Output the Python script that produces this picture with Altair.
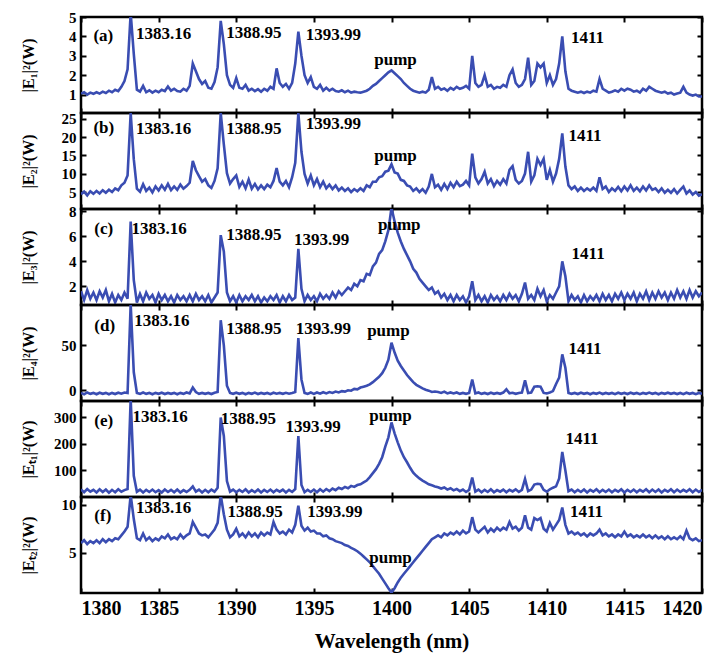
import altair as alt
import pandas as pd

SERIF = "Liberation Serif"
BLUE = "#3a4db2"

WAVELENGTH = [round(1380 + 0.2 * i, 1) for i in range(201)]
X_TICKS = [1380, 1385, 1390, 1395, 1400, 1405, 1410, 1415, 1420]

E1 = [1.05, 1.12, 1.0, 1.1, 1.04, 1.12, 1.05, 1.15, 1.08, 1.2,
      1.12, 1.25, 1.18, 1.4, 1.7, 2.3, 5.2, 3.1, 1.25, 1.15,
      1.45, 1.12, 1.22, 1.1, 1.2, 1.12, 1.25, 1.18, 1.42, 1.2,
      1.3, 1.18, 1.15, 1.3, 1.2, 1.45, 2.6, 2.2, 1.8, 1.55,
      1.7, 1.35, 1.3, 1.65, 2.4, 4.8, 3.6, 2.0, 1.5, 1.35,
      1.85, 1.35, 1.3, 1.5, 1.2, 1.3, 1.18, 1.28, 1.15, 1.3,
      1.2, 1.4, 1.3, 2.35, 1.6, 1.4, 1.55, 1.3, 1.6, 2.6,
      4.25, 3.0, 2.0, 1.6, 1.9, 1.4, 1.3, 1.5, 1.2, 1.35,
      1.2, 1.3, 1.18, 1.15, 1.22, 1.12, 1.2, 1.1, 1.15, 1.12,
      1.1, 1.15, 1.2, 1.3, 1.45, 1.55, 1.7, 1.85, 2.0, 2.15,
      2.25, 2.1, 1.95, 1.8, 1.6, 1.45, 1.3, 1.2, 1.15, 1.1,
      1.15, 1.1, 1.25, 1.9, 1.3, 1.4, 1.25, 1.32, 1.2, 1.35,
      1.25, 1.4, 1.3, 1.35, 1.45, 1.3, 3.0, 1.6, 1.4, 1.5,
      2.0, 1.4, 1.5, 1.3, 1.4, 1.35, 1.5, 1.4, 2.0, 2.3,
      1.6, 1.4, 1.5, 1.8, 2.9, 1.5, 1.7, 2.6, 2.4, 2.6,
      1.6, 2.0, 1.5, 1.8, 2.6, 4.0, 2.2, 1.3, 1.2, 1.15,
      1.1, 1.15, 1.08, 1.15, 1.1, 1.2, 1.15, 1.8, 1.3, 1.2,
      1.1, 1.15, 1.22, 1.15, 1.3, 1.2, 1.3, 1.25, 1.15, 1.2,
      1.1, 1.3, 1.2, 1.4, 1.3, 1.2, 1.15, 1.1, 1.15, 1.05,
      1.1, 1.0, 1.05, 1.1, 1.4, 1.1, 1.0, 0.95, 1.0, 0.9,
      0.9]

E2 = [4.5, 5.2, 4.2, 5.3, 4.6, 5.4, 4.7, 5.6, 4.9, 5.7,
      5.1, 6.1, 5.6, 6.9, 7.6, 9.6, 26.5, 14.0, 6.0, 5.2,
      7.2, 5.4, 6.3, 5.0, 6.6, 5.5, 6.9, 5.7, 7.3, 5.6,
      6.6, 5.7, 7.1, 6.0, 6.7, 7.6, 13.5, 11.0, 9.4, 7.9,
      8.6, 6.9, 6.2, 8.1, 11.5, 26.5, 18.0, 10.2, 7.4, 8.6,
      9.6, 6.5, 7.9, 6.1, 8.5, 6.0, 7.3, 5.8, 6.9, 5.9,
      7.1, 6.4, 8.1, 11.6, 7.9, 6.9, 8.1, 6.4, 9.1, 13.0,
      26.5, 16.0, 10.0, 7.4, 9.6, 6.9, 8.6, 6.4, 7.9, 6.1,
      7.1, 5.9, 6.9, 5.5, 6.3, 5.4, 6.1, 5.1, 5.9, 5.3,
      6.1, 5.4, 6.9, 6.4, 7.9, 7.9, 9.1, 9.4, 10.6, 10.9,
      12.6, 10.4, 10.1, 8.4, 8.1, 6.9, 6.6, 5.4, 6.1, 5.1,
      5.9, 4.9, 6.6, 10.0, 6.4, 7.1, 5.7, 7.3, 5.9, 7.6,
      6.4, 7.9, 6.7, 7.1, 8.1, 6.9, 15.5, 9.1, 7.4, 8.6,
      10.6, 7.4, 8.6, 6.7, 8.1, 7.1, 8.6, 7.4, 11.1, 12.1,
      8.4, 7.4, 8.1, 10.1, 16.0, 7.9, 9.6, 14.1, 12.4, 14.1,
      8.4, 11.1, 7.9, 10.1, 14.1, 21.0, 12.0, 6.9, 5.9, 6.6,
      5.4, 6.3, 5.4, 6.1, 5.5, 6.3, 5.4, 9.1, 5.9, 6.6,
      5.1, 6.1, 5.4, 6.5, 5.3, 6.6, 5.5, 6.9, 5.4, 6.3,
      5.3, 6.6, 5.5, 6.9, 5.7, 6.1, 5.1, 6.1, 4.9, 5.7,
      4.9, 5.9, 4.7, 5.7, 6.6, 4.7, 5.5, 4.4, 5.1, 4.1,
      4.5]

E3 = [1.6, 0.9, 1.7, 1.0, 1.5, 0.9, 1.6, 1.1, 1.7, 0.8,
      1.4, 0.7, 1.3, 0.9, 1.5, 1.0, 7.2, 2.5, 0.7, 1.4,
      0.8, 1.5, 1.0, 1.3, 0.7, 1.4, 0.9, 1.3, 0.8, 1.2,
      0.7, 1.3, 0.9, 1.2, 0.8, 1.3, 0.8, 1.4, 0.9, 1.2,
      0.8, 1.3, 0.7, 1.1, 1.5, 6.1, 4.8, 1.5, 0.8, 1.2,
      0.7, 1.3, 0.8, 1.2, 0.9, 1.3, 0.8, 1.2, 0.7, 1.1,
      0.8, 1.2, 0.9, 1.3, 0.7, 1.2, 0.8, 1.3, 0.9, 1.1,
      5.0, 1.8, 0.8, 1.3, 0.9, 1.2, 0.8, 1.4, 1.0, 1.3,
      1.0, 1.5, 1.1, 1.6, 1.3, 1.6, 1.9, 1.7, 2.2, 2.0,
      2.5, 2.4, 3.0, 2.9, 3.6, 3.9, 4.6, 4.9, 5.6, 6.5,
      8.3, 7.2, 6.3, 5.6, 5.0, 4.5, 4.0, 3.4, 3.1, 2.6,
      2.3, 2.0, 1.7, 1.9, 1.4, 1.6, 1.1, 1.4, 0.9, 1.3,
      0.8, 1.3, 0.9, 1.2, 0.7, 1.2, 2.4, 0.9, 1.3, 0.8,
      1.2, 0.7, 1.3, 0.9, 1.2, 0.8, 1.3, 0.9, 1.4, 1.0,
      1.3, 0.8, 1.4, 2.3, 1.0, 1.3, 0.9, 1.8, 1.2, 1.7,
      0.8, 1.3, 1.0, 1.5, 2.0, 4.0, 2.8, 0.8, 1.3, 0.9,
      1.2, 0.7, 1.3, 0.8, 1.2, 0.9, 1.3, 0.8, 1.4, 0.9,
      1.3, 0.8, 1.4, 1.0, 1.5, 0.9, 1.4, 1.0, 1.5, 0.8,
      1.4, 1.0, 1.6, 0.9, 1.5, 1.0, 1.6, 1.1, 1.5, 0.9,
      1.5, 1.0, 1.7, 1.1, 1.6, 1.0, 1.7, 1.1, 1.6, 1.2,
      1.5]

E4 = [-3, -4.5, -2.5, -4, -3, -4.5, -2.8, -4, -3, -4.5,
      -3, -4.2, -2.8, -3.8, -2.5, -3, 96, 20, -3, -4,
      -2.5, -4, -3, -4.5, -3, -4, -2.8, -4.2, -3, -4,
      -3, -4.5, -3, -4, -2.5, -3.5, 3, -2, -4, -3,
      -4, -3, -4.2, -2.8, -2, 78, 50, 5, -3, -4,
      -2.8, -4, -3, -4.5, -3, -4, -2.7, -4.2, -3, -4,
      -3, -4.4, -2.8, -3.8, -3, -4, -2.8, -3.8, -3, -2,
      58, 12, -3, -4, -2.5, -4, -2.5, -3.8, -2.2, -3.5,
      -2, -3, -1.5, -2.5, -1, -1.5, 0, -0.5, 1.5, 1,
      3, 4, 5, 6.5, 9, 12, 15, 19, 25, 34,
      53, 42, 33, 27, 22, 17, 13, 9, 6, 4,
      2, 0.5, -0.5, -2, -1.5, -2, -3, -1.5, -3.5, -2.5,
      -3.5, -2.5, -4, -3, -4, -3, 12, -3.5, -2.5, -4,
      -3, -4.2, -2.8, -4, -3, -4, -2.6, 1, -3.5, -2.8,
      -4, -3, -2.5, 11, -3, -2.5, 4, 4.5, 4, -3,
      -3.5, -2.5, -1, 7, 14, 40, 25, -3, -4, -3,
      -4.2, -2.8, -4, -3, -4.5, -3, -4, -2.6, -4.2, -3,
      -4, -3, -4.4, -2.8, -4, -3, -4.2, -2.8, -4, -3,
      -4.3, -3, -4, -2.7, -4, -3, -4.5, -3, -4, -2.8,
      -4, -3, -4.2, -3, -4.4, -2.8, -4, -3, -4.3, -3,
      -4]

ET1 = [28, 18, 30, 20, 27, 17, 29, 19, 28, 16,
       27, 18, 29, 20, 26, 30, 370, 80, 20, 28,
       17, 27, 19, 28, 18, 26, 17, 28, 19, 27,
       18, 28, 17, 26, 19, 27, 40, 20, 28, 17,
       27, 18, 28, 20, 35, 300, 230, 60, 20, 28,
       18, 27, 19, 29, 17, 26, 18, 28, 17, 27,
       19, 28, 18, 27, 20, 28, 17, 27, 19, 30,
       230, 45, 18, 27, 19, 28, 18, 29, 20, 30,
       22, 32, 26, 35, 30, 38, 33, 42, 38, 45,
       48, 55, 62, 75, 90, 105, 125, 150, 190, 225,
       281, 240, 206, 175, 150, 131, 110, 92, 80, 70,
       62, 55, 48, 44, 40, 37, 32, 36, 28, 33,
       25, 30, 22, 28, 19, 27, 73, 20, 28, 18,
       27, 19, 29, 18, 26, 20, 28, 18, 27, 21,
       29, 19, 27, 68, 22, 28, 47, 50, 48, 27,
       20, 29, 35, 40, 70, 170, 100, 22, 28, 18,
       27, 19, 28, 17, 27, 20, 29, 18, 27, 19,
       28, 18, 27, 20, 29, 17, 27, 19, 28, 18,
       27, 20, 29, 18, 28, 19, 28, 17, 27, 20,
       29, 18, 28, 19, 27, 20, 29, 18, 28, 19,
       27]

ET2 = [6.0, 6.3, 5.9, 6.2, 6.0, 6.3, 6.0, 6.4, 6.1, 6.4,
       6.2, 6.5, 6.4, 6.8, 7.2, 7.7, 11.0, 8.5, 6.5, 6.3,
       7.0, 6.3, 6.6, 6.2, 6.5, 6.3, 6.7, 6.5, 6.9, 6.4,
       6.6, 6.4, 6.9, 6.5, 6.8, 7.0, 8.2, 7.6, 7.0, 6.8,
       6.9, 6.6, 7.0, 7.4, 8.1, 11.0, 9.0, 7.4, 6.6, 6.9,
       7.5, 6.7, 7.0, 6.6, 7.1, 6.7, 7.0, 6.6, 7.1, 6.8,
       7.1, 6.9, 8.2, 7.4, 7.0, 7.2, 6.9, 7.4, 7.1, 7.9,
       9.9, 7.8, 7.3, 7.6, 7.2, 7.3, 7.0, 7.0, 6.7, 6.8,
       6.5, 6.4, 6.2, 6.1, 6.0, 5.8, 5.7, 5.5, 5.35, 5.15,
       4.9, 4.6, 4.3, 4.0, 3.6, 3.2, 2.8, 2.3, 1.8, 1.3,
       0.85, 1.3, 1.9, 2.4, 2.8, 3.2, 3.6, 4.0, 4.4, 4.8,
       5.2, 5.6, 6.0, 6.4, 6.6, 6.8, 6.6, 7.0, 6.8, 7.1,
       6.9, 7.2, 6.9, 7.3, 7.0, 7.2, 8.7, 7.4, 7.1, 7.4,
       7.7, 7.1, 7.5, 7.2, 7.6, 7.3, 7.6, 7.4, 8.2, 7.5,
       7.7, 7.3, 7.6, 8.9, 7.6, 7.4, 8.6, 8.4, 8.6, 7.5,
       7.2, 8.1, 7.4, 7.9, 8.4, 9.7, 7.9, 7.0, 7.2, 6.9,
       7.1, 6.8, 7.0, 6.7, 7.0, 6.8, 7.0, 7.4, 6.8, 7.0,
       6.7, 6.9, 6.6, 6.9, 6.7, 7.2, 6.7, 6.9, 6.6, 6.8,
       6.6, 6.9, 6.6, 6.8, 6.5, 6.8, 6.5, 6.7, 6.4, 6.7,
       6.4, 6.6, 6.4, 6.7, 6.4, 7.3, 6.5, 6.3, 6.5, 6.2,
       6.3]

# annotation texts: (text, wavelength, value, align)
LABELS_A = [("(a)", 1380.8, 4.0, "left"), ("1383.16", 1383.54, 4.13, "left"),
            ("1388.95", 1389.35, 4.2, "left"), ("1393.99", 1394.47, 4.05, "left"),
            ("pump", 1400.26, 2.79, "center"), ("1411", 1411.56, 3.9, "left")]
LABELS_B = [("(b)", 1380.8, 22.5, "left"), ("1383.16", 1383.54, 22.1, "left"),
            ("1388.95", 1389.35, 22.2, "left"), ("1393.99", 1394.47, 23.5, "left"),
            ("pump", 1400.26, 14.8, "center"), ("1411", 1411.4, 20.3, "left")]
LABELS_C = [("(c)", 1380.86, 6.62, "left"), ("1383.16", 1383.25, 6.6, "left"),
            ("1388.95", 1389.35, 6.1, "left"), ("1393.99", 1393.72, 5.7, "left"),
            ("pump", 1400.5, 6.9, "center"), ("1411", 1411.6, 4.6, "left")]
LABELS_D = [("(d)", 1380.86, 71.4, "left"), ("1383.16", 1383.43, 77, "left"),
            ("1388.95", 1389.35, 68, "left"), ("1393.99", 1393.83, 67.8, "left"),
            ("pump", 1399.8, 66, "center"), ("1411", 1411.4, 45.5, "left")]
LABELS_E = [("(e)", 1380.86, 288, "left"), ("1383.16", 1383.32, 300, "left"),
            ("1388.95", 1389.0, 294, "left"), ("1393.99", 1393.18, 262.5, "left"),
            ("pump", 1399.94, 306, "center"), ("1411", 1411.2, 219, "left")]
LABELS_F = [("(f)", 1380.86, 8.85, "left"), ("1383.16", 1383.54, 9.7, "left"),
            ("1388.95", 1389.43, 9.2, "left"), ("1393.99", 1394.57, 9.2, "left"),
            ("pump", 1399.94, 4.43, "center"), ("1411", 1411.5, 9.2, "left")]

PANELS = [
    (E1, [0.05, 5.0], [1, 2, 3, 4, 5], "|E₁|²(W)", LABELS_A),
    (E2, [0.5, 26.5], [5, 10, 15, 20, 25], "|E₂|²(W)", LABELS_B),
    (E3, [0.5, 8.2], [2, 4, 6, 8], "|E₃|²(W)", LABELS_C),
    (E4, [-12, 95], [0, 50], "|E₄|²(W)", LABELS_D),
    (ET1, [0, 362], [100, 200, 300], "|Eₜ₁|²(W)", LABELS_E),
    (ET2, [0.8, 10.8], [5, 10], "|Eₜ₂|²(W)", LABELS_F),
]

W, H = 621, 96


def make_panel(vals, ydom, yticks, ytitle, labels, last):
    xs = alt.Scale(domain=[1380, 1420], nice=False, zero=False)
    ys = alt.Scale(domain=ydom, nice=False, zero=False)
    df = pd.DataFrame({"wl": WAVELENGTH, "v": vals})

    bottom_kw = dict(orient="bottom", values=X_TICKS, offset=-5, tickSize=5,
                     tickWidth=2, tickColor="black", domain=False, grid=False,
                     labels=last, format="d")
    if last:
        bottom_kw.update(labelFont=SERIF, labelFontWeight="bold", labelFontSize=20,
                         labelColor="black", labelPadding=5,
                         titleFont=SERIF, titleFontWeight="bold", titleFontSize=21,
                         titleColor="black", titlePadding=12)
        xtitle = "Wavelength (nm)"
    else:
        xtitle = None

    left_axis = alt.Axis(orient="left", values=yticks, offset=-5, tickSize=5,
                         tickWidth=2, tickColor="black", domain=False, grid=False,
                         labelFont=SERIF, labelFontWeight="bold", labelFontSize=15,
                         labelColor="black", labelPadding=5,
                         titleFont=SERIF, titleFontWeight="bold", titleFontSize=16,
                         titleColor="black", titleX=-58, titleY=H / 2,
                         titleAlign="center", titleBaseline="middle", titleAngle=270)

    line = alt.Chart(df).mark_line(color=BLUE, strokeWidth=2.6, clip=True).encode(
        x=alt.X("wl:Q", scale=xs, axis=alt.Axis(**bottom_kw), title=xtitle),
        y=alt.Y("v:Q", scale=ys, axis=left_axis, title=ytitle),
    )

    ldf = pd.DataFrame([dict(t=t, x=x, y=y) for t, x, y, a in labels if a == "left"])
    cdf = pd.DataFrame([dict(t=t, x=x, y=y) for t, x, y, a in labels if a == "center"])

    top_axis = alt.Axis(orient="top", values=X_TICKS, offset=-5, tickSize=5, tickWidth=2,
                        tickColor="black", domain=False, grid=False, labels=False)
    right_axis = alt.Axis(orient="right", values=yticks, offset=-5, tickSize=5, tickWidth=2,
                          tickColor="black", domain=False, grid=False, labels=False)

    txt_l = alt.Chart(ldf).mark_text(font=SERIF, fontWeight="bold", fontSize=17,
                                     align="left", baseline="middle", color="black").encode(
        x=alt.X("x:Q", scale=xs, axis=top_axis, title=None),
        y=alt.Y("y:Q", scale=ys, axis=right_axis, title=None),
        text="t:N",
    )
    txt_c = alt.Chart(cdf).mark_text(font=SERIF, fontWeight="bold", fontSize=17,
                                     align="center", baseline="middle", color="black").encode(
        x=alt.X("x:Q", scale=xs, axis=None),
        y=alt.Y("y:Q", scale=ys, axis=None),
        text="t:N",
    )
    return alt.layer(line, txt_l, txt_c).resolve_axis(
        x="independent", y="independent").properties(width=W, height=H)


charts = [make_panel(v, d, t, ti, lb, i == len(PANELS) - 1)
          for i, (v, d, t, ti, lb) in enumerate(PANELS)]

chart = alt.vconcat(*charts, spacing=0, bounds="flush").configure_view(
    stroke="black", strokeWidth=2.5
).properties(padding={"left": 10, "top": 0, "right": 5, "bottom": 5})

chart.save("out.html", embed_options={"renderer": "svg", "actions": False})
